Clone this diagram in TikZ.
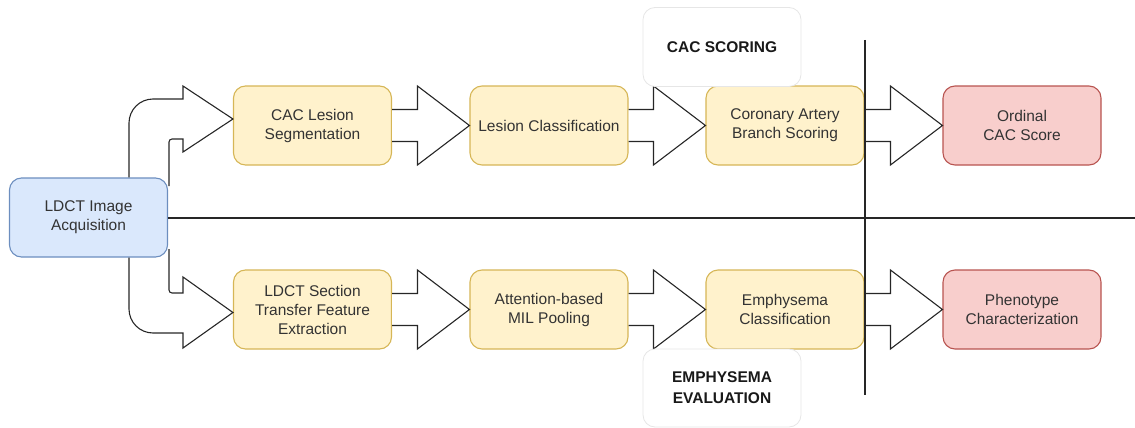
\documentclass[tikz,border=0pt]{standalone}
\usepackage{fontspec}
\setmainfont{Liberation Sans}
\usetikzlibrary{calc}
\definecolor{yfill}{HTML}{FFF2CC}
\definecolor{ydraw}{HTML}{D6B656}
\definecolor{bfill}{HTML}{DAE8FC}
\definecolor{bdraw}{HTML}{6C8EBF}
\definecolor{rfill}{HTML}{F8CECC}
\definecolor{rdraw}{HTML}{B85450}
\definecolor{txt}{HTML}{333333}
\definecolor{lbldraw}{HTML}{E6E6E6}
\tikzset{
  box/.style={draw, rounded corners=12pt, line width=1.1pt, minimum width=158pt,
    minimum height=79pt, align=center, text=txt,
    font=\fontsize{15.5}{19}\selectfont},
  procbox/.style={box, fill=yfill, draw=ydraw},
  inbox/.style={box, fill=bfill, draw=bdraw},
  outbox/.style={box, fill=rfill, draw=rdraw},
  lblbox/.style={box, fill=white, draw=lbldraw, line width=0.8pt, text=black!90,
    font=\fontsize{15.5}{21}\selectfont\bfseries},
  blk/.style={draw=black!85, line width=1.1pt, fill=white, line join=miter},
  sep/.style={draw=black!85, line width=2pt},
}
% block arrow from the east side of #1 to the west side of #2
\newcommand\blockarrow[2]{%
  \draw[blk] let \p1=(#1.east), \p2=(#2.west) in
    (\x1,\y1+16pt) -- (\x2-52pt,\y1+16pt) -- (\x2-52pt,\y2+39.5pt) -- (\p2)
    -- (\x2-52pt,\y2-39.5pt) -- (\x2-52pt,\y1-16pt) -- (\x1,\y1-16pt);}
\begin{document}
\begin{tikzpicture}[x=1pt,y=-1pt]
\useasboundingbox (0,0) rectangle (1135,428);

% process nodes
\node[inbox] (ldct) at (88.5,217.5) {LDCT Image\\Acquisition};
\node[procbox] (seg)  at (312.5,125.5) {CAC Lesion\\Segmentation};
\node[procbox] (cls)  at (549,125.5) {Lesion Classification};
\node[procbox] (brs)  at (785,125.5) {Coronary Artery\\Branch Scoring};
\node[outbox]  (ord)  at (1022,125.5) {Ordinal\\CAC Score};
\node[procbox] (tfe)  at (312.5,309.5) {LDCT Section\\Transfer Feature\\Extraction};
\node[procbox] (mil)  at (549,309.5) {Attention-based\\MIL Pooling};
\node[procbox] (emc)  at (785,309.5) {Emphysema\\Classification};
\node[outbox]  (phc)  at (1022,309.5) {Phenotype\\Characterization};

% separators
\coordinate (hend) at (1135,217.5);
\coordinate (vtop) at (864.5,40);
\coordinate (vbot) at (864.5,395);
\draw[sep] (ldct.east) -- (hend);

% branching arrows out of the acquisition box
\draw[blk, fill=none] let \p1=($(ldct.north)+(40.5pt,0)$), \p2=($(seg.west)+(0,6.5pt)$) in
  (\p1) [rounded corners=24pt] -- (\x1,99) [sharp corners] -- (183,99)
  -- (183,86) -- (\p2) -- (183,152) -- (183,139) [rounded corners=3pt] -- (169,139)
  [sharp corners] -- (169,186);
\draw[blk, fill=none] let \p1=($(ldct.south)+(40.5pt,0)$), \p2=($(tfe.west)+(0,-3pt)$) in
  (\p1) [rounded corners=24pt] -- (\x1,333) [sharp corners] -- (183,333)
  -- (183,348) -- (\p2) -- (183,277) -- (183,293) [rounded corners=3pt] -- (169,293)
  [sharp corners] -- (169,249);

% flow arrows
\blockarrow{seg}{cls}
\blockarrow{cls}{brs}
\blockarrow{brs}{ord}
\blockarrow{tfe}{mil}
\blockarrow{mil}{emc}
\blockarrow{emc}{phc}

\draw[sep] (vtop) -- (vbot);

% stage labels
\node[lblbox] (lcac) at (722,47) {CAC SCORING};
\node[lblbox, minimum height=78pt] (lemp) at (722,388) {EMPHYSEMA\\EVALUATION};
\end{tikzpicture}
\end{document}
